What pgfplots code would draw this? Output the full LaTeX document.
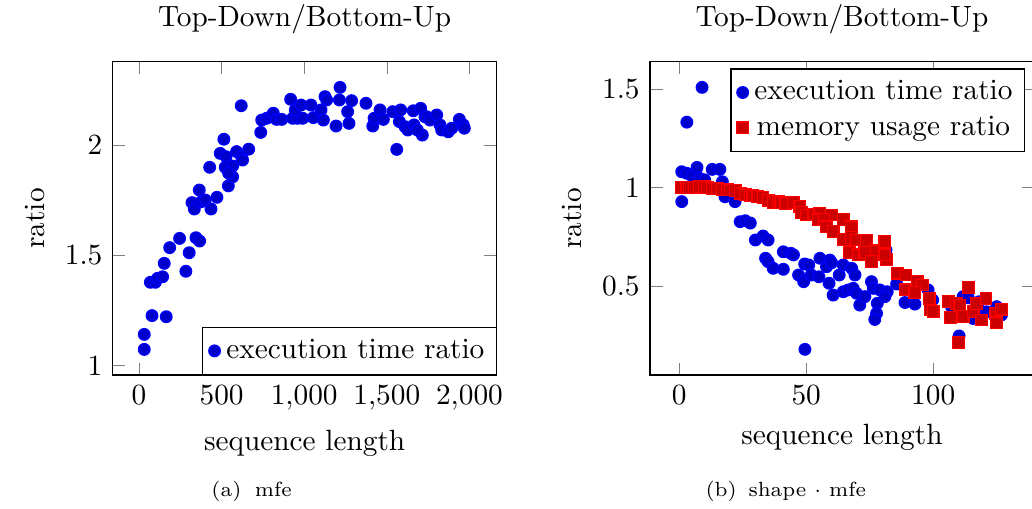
\documentclass[border=0pt]{standalone}
\usepackage{pgfplots}
\pgfplotsset{compat=1.18}

\pgfplotsset{
  ratioaxis/.style={
    scale only axis,
    width=131.06pt,
    height=106.9pt,
    anchor=south west,
    title={Top-Down/Bottom-Up},
    xlabel={sequence length},
    ylabel={ratio},
    legend style={inner xsep=2pt},
  },
}

\begin{document}
\begin{tikzpicture}
% (a) mfe
\begin{axis}[ratioaxis,
  at={(38.46pt,45.39pt)},
  xmin=-159, xmax=2165, ymin=0.958, ymax=2.377,
  xtick={0,500,1000,1500,2000}, ytick={1,1.5,2},
  legend style={at={(1,0)},anchor=south east},
]
\addplot+[only marks] coordinates {
(32,1.074) (32,1.142) (79,1.227) (165,1.222) (69,1.378) (99,1.378)
(113,1.396) (143,1.403) (153,1.464) (186,1.535) (246,1.577) (284,1.428)
(304,1.512) (345,1.580) (367,1.565) (321,1.739) (335,1.710) (365,1.796)
(377,1.743) (401,1.751) (436,1.710) (472,1.763) (428,1.899) (492,1.962)
(514,2.026) (527,1.947) (522,1.899) (567,1.905) (541,1.815) (567,1.856)
(543,1.872) (591,1.970) (621,1.947) (627,1.932) (664,1.981) (619,2.178)
(737,2.057) (743,2.113) (773,2.121) (797,2.128) (813,2.144) (833,2.116)
(864,2.116) (918,2.207) (930,2.121) (958,2.121) (946,2.159) (991,2.121)
(981,2.181) (1041,2.181) (1055,2.124) (1102,2.159) (1116,2.113) (1126,2.219)
(1136,2.204) (1217,2.261) (1213,2.204) (1193,2.086) (1287,2.201) (1263,2.151)
(1271,2.098) (1374,2.189) (1415,2.086) (1423,2.121) (1459,2.159) (1479,2.116)
(1536,2.151) (1560,1.980) (1576,2.106) (1584,2.159) (1610,2.083) (1627,2.068)
(1660,2.155) (1665,2.091) (1705,2.166) (1715,2.045) (1685,2.068) (1731,2.128)
(1741,2.128) (1761,2.113) (1802,2.136) (1822,2.091) (1832,2.068) (1872,2.060)
(1893,2.076) (1939,2.116) (1963,2.091) (1969,2.076)
};
\legend{execution time ratio}
\end{axis}

% (b) shape . mfe
\begin{axis}[ratioaxis,
  at={(221.84pt,45.39pt)},
  xmin=-11.5, xmax=139.7, ymin=0.0475, ymax=1.64,
  xtick={0,50,100}, ytick={0.5,1,1.5},
  legend style={at={(0.976,0.979)},anchor=north east},
]
\addplot+[only marks] coordinates {
(1,0.929) (1,1.081) (3,1.333) (9,1.510) (3,1.073) (5,1.060) (7,1.103)
(8,1.048) (10,1.040) (13,1.093) (16,1.093) (17,1.030) (18,0.954) (22,0.929)
(24,0.827) (26,0.832) (28,0.820) (30,0.734) (33,0.754) (35,0.734) (34,0.641)
(35,0.624) (37,0.590) (41,0.674) (41,0.585) (44,0.666) (45,0.658) (47,0.556)
(49,0.522) (49.5,0.178) (49.4,0.612) (51,0.607) (52,0.556) (55,0.547)
(55.4,0.641) (58,0.598) (59.3,0.632) (60,0.618) (59,0.514) (60.6,0.454)
(63,0.556) (64.6,0.607) (64.6,0.471) (66.5,0.480) (67.9,0.590) (69.2,0.556)
(68.5,0.488) (69.8,0.463) (71.1,0.403) (73.1,0.446) (75.7,0.522) (76.4,0.488)
(78,0.412) (77.7,0.361) (77,0.330) (79,0.480) (81.9,0.471) (81,0.446)
(81.4,0.683) (85.6,0.510) (88.9,0.416) (92.8,0.408) (98,0.480) (99.8,0.429)
(107.2,0.395) (110.2,0.246) (111.8,0.446) (113.8,0.440) (115.7,0.335)
(118,0.420) (118.4,0.369) (121,0.369) (125,0.395) (126.9,0.353)
};
\addplot+[only marks] coordinates {
(1,1.000) (3,1.000) (4,1.000) (6,1.000) (8,1.005) (10,1.005) (11,1.000)
(13,0.997) (15,0.995) (17,0.990) (19,0.990) (20,0.988) (22,0.985) (24,0.970)
(26,0.963) (28,0.960) (29,0.958) (31,0.955) (33,0.951) (35,0.937) (37,0.924)
(39,0.930) (40,0.924) (42,0.920) (45,0.924) (47.5,0.903) (48,0.875)
(50.2,0.861) (53,0.866) (55.4,0.870) (60,0.861) (54.7,0.836) (57,0.840)
(58,0.801) (60.6,0.776) (64.6,0.839) (67.9,0.801) (64.6,0.737) (67.9,0.748)
(69.8,0.734) (73.8,0.730) (66.9,0.669) (70.5,0.658) (73.1,0.669) (77.7,0.679)
(81,0.725) (75.7,0.624) (81.6,0.636) (81,0.658) (85.8,0.565) (89.3,0.556)
(93.7,0.522) (95.8,0.505) (88.9,0.480) (92.8,0.466) (98.4,0.437) (99,0.378)
(100,0.369) (105.9,0.420) (109.2,0.412) (110.5,0.403) (106.9,0.339)
(111.8,0.344) (113.8,0.493) (109.9,0.212) (115.7,0.369) (119.1,0.327)
(117.1,0.412) (120.8,0.437) (124.7,0.361) (126.9,0.382) (125,0.313)
};
\legend{execution time ratio, memory usage ratio}
\end{axis}

% sub-captions
\node[font=\scriptsize] at (85.9pt,5.56pt) {(a)\hspace{4.6pt}mfe};
\node[font=\scriptsize] at (268.2pt,5.56pt) {(b)\hspace{4pt}shape $\cdot$ mfe};

\pgfresetboundingbox
\useasboundingbox (0,0) rectangle (352.22pt,173.38pt);
\end{tikzpicture}
\end{document}
